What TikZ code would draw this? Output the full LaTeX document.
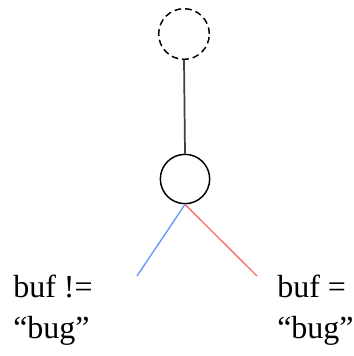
\documentclass[tikz,border=0pt]{standalone}
\usepackage{fontspec}
\setmainfont{Liberation Serif}
\definecolor{lblue}{RGB}{100,150,250}
\definecolor{lred}{RGB}{250,110,110}
\begin{document}
\begin{tikzpicture}[x=0.75pt,y=-0.75pt,
  statenode/.style={circle,draw=black,line width=1.1pt,minimum size=37pt,inner sep=0pt},
  ghost/.style={statenode,minimum size=38pt,dash pattern=on 5pt off 3pt},
  lbl/.style={anchor=base west,inner sep=0pt,font=\fontsize{24}{28}\selectfont}]
\useasboundingbox (0,0) rectangle (353,356);
\node[ghost] (top) at (184,34) {};
\node[statenode] (mid) at (185,179) {};
\coordinate (lend) at (137,276);
\coordinate (rend) at (257,276);
\draw[line width=1.3pt,black!75] (top.south) -- (mid.north);
\draw[line width=1pt,lblue] (mid.south) -- (lend);
\draw[line width=1pt,lred] (mid.south) -- (rend);
\node[lbl] (l1) at (13,297) {buf !=};
\node[lbl] (l2) at (13,338) {“bug”};
\node[lbl] (r1) at (277,297) {buf =};
\node[lbl] (r2) at (277,338) {“bug”};
\end{tikzpicture}
\end{document}
